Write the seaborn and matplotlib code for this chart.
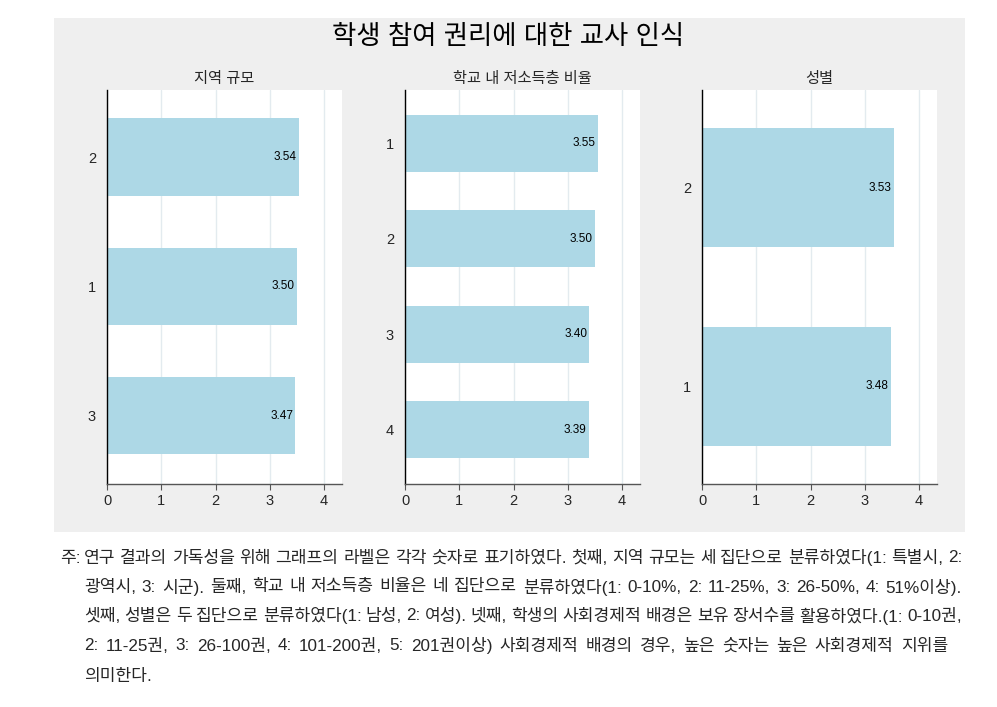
import matplotlib
matplotlib.use("Agg")
import matplotlib.pyplot as plt
import seaborn as sns
import pandas as pd
from matplotlib.patches import Rectangle

sns.set_theme(style="white")
plt.rcParams['font.family'] = ['Liberation Sans', 'Noto Sans CJK KR']

title = "학생 참여 권리에 대한 교사 인식"
region_title = "지역 규모"
region_labels = ["2", "1", "3"]
region_values = [3.54, 3.50, 3.47]
income_title = "학교 내 저소득층 비율"
income_labels = ["1", "2", "3", "4"]
income_values = [3.55, 3.50, 3.40, 3.39]
gender_title = "성별"
gender_labels = ["2", "1"]
gender_values = [3.53, 3.48]
x_ticks = [0, 1, 2, 3, 4]

note_lines = [
    "연구 결과의 가독성을 위해 그래프의 라벨은 각각 숫자로 표기하였다. 첫째, 지역 규모는 세 집단으로 분류하였다(1: 특별시, 2:",
    "광역시, 3: 시군). 둘째, 학교 내 저소득층 비율은 네 집단으로 분류하였다(1: 0-10%, 2: 11-25%, 3: 26-50%, 4: 51%이상).",
    "셋째, 성별은 두 집단으로 분류하였다(1: 남성, 2: 여성). 넷째, 학생의 사회경제적 배경은 보유 장서수를 활용하였다.(1: 0-10권,",
    "2: 11-25권, 3: 26-100권, 4: 101-200권, 5: 201권이상) 사회경제적 배경의 경우, 높은 숫자는 높은 사회경제적 지위를",
    "의미한다.",
]

W, H = 997, 707
fig = plt.figure(figsize=(W / 100, H / 100), dpi=100)
fig.patch.set_facecolor("white")

# gray panel
fig.add_artist(Rectangle((54 / W, 1 - 532 / H), (965 - 54) / W, (532 - 18) / H,
                         transform=fig.transFigure, facecolor="#efefef",
                         edgecolor="none", zorder=0))

fig.text(508 / W, 1 - 37 / H, title, ha="center", va="center", fontsize=19, color="black")

panels = [
    (107, 342, region_title, region_labels, region_values, (2.53, -0.52)),
    (405, 640, income_title, income_labels, income_values, (3.57, -0.56)),
    (702, 937, gender_title, gender_labels, gender_values, (1.49, -0.49)),
]
top_px, bot_px = 90, 484
for left, right, sub, labels, vals, ylim in panels:
    ax = fig.add_axes([left / W, 1 - bot_px / H, (right - left) / W, (bot_px - top_px) / H])
    df = pd.DataFrame({"cat": labels, "val": vals})
    sns.barplot(data=df, x="val", y="cat", order=labels, orient="h",
                color="#add8e6", saturation=1, width=0.6, ax=ax, edgecolor="none")
    ax.set_xlim(0, (right - left) / 54.25)
    ax.set_ylim(*ylim)
    ax.set_xticks(x_ticks)
    ax.set_xticklabels([str(t) for t in x_ticks], fontsize=10.5)
    ax.set_yticklabels(labels, fontsize=10.5)
    ax.set_xlabel("")
    ax.set_ylabel("")
    ax.grid(axis="x", color="#e3ebef", linewidth=1)
    ax.set_axisbelow(True)
    for s in ["top", "right"]:
        ax.spines[s].set_visible(False)
    ax.spines["left"].set_color("black")
    ax.spines["left"].set_linewidth(1)
    ax.spines["bottom"].set_color("#555555")
    ax.spines["bottom"].set_linewidth(1)
    ax.tick_params(axis="x", length=4, width=0.8, color="#555555", pad=3, bottom=True)
    ax.tick_params(axis="y", length=0, pad=8)
    for i, v in enumerate(vals):
        ax.text(v - 0.04, i, f"{v:.2f}", ha="right", va="center", fontsize=8.5,
                color="black")
    ax.set_title(sub, fontsize=11, pad=5)

# Notes
fs = 12.3
fig.text(60 / W, 1 - 558 / H, "주:", ha="left", va="center", fontsize=fs)
renderer = fig.canvas.get_renderer()
ys = [558, 587, 616, 646, 676]
justify_to = [962, 962, 962, 948, None]
for line, y, jr in zip(note_lines, ys, justify_to):
    if jr is None:
        fig.text(84 / W, 1 - y / H, line, ha="left", va="center", fontsize=fs)
        continue
    words = line.split(" ")
    widths = []
    for w in words:
        t = fig.text(0, 0, w, fontsize=fs)
        bb = t.get_window_extent(renderer)
        widths.append(bb.width)
        t.remove()
    total = sum(widths)
    gap = (jr - 84 - total) / (len(words) - 1)
    x = 84
    for w, wd in zip(words, widths):
        fig.text(x / W, 1 - y / H, w, ha="left", va="center", fontsize=fs)
        x += wd + gap

fig.savefig("out.png", dpi=100, facecolor="white")
